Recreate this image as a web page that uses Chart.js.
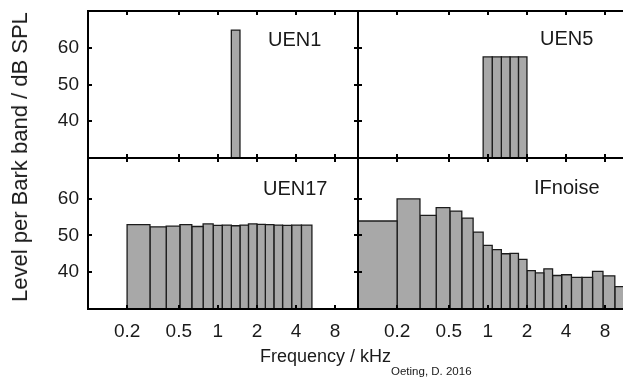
<!DOCTYPE html>
<html>
<head>
<meta charset="utf-8">
<script src="https://cdn.jsdelivr.net/npm/chart.js@4.4.1/dist/chart.umd.min.js"></script>
<style>
  html, body { margin: 0; padding: 0; background: #fff; }
  body { width: 623px; height: 378px; overflow: hidden; position: relative;
         font-family: "Liberation Sans", Arial, Helvetica, sans-serif; color: #1a1a1a; }
  canvas { position: absolute; left: 0; top: 0; }
  .lbl { position: absolute; white-space: nowrap; line-height: 1; }
</style>
</head>
<body>
<canvas id="uen1" width="640" height="378"></canvas>
<canvas id="uen5" width="640" height="378"></canvas>
<canvas id="uen17" width="640" height="378"></canvas>
<canvas id="ifnoise" width="640" height="378"></canvas>

<div class="lbl" style="left:268px;top:29px;font-size:20px">UEN1</div>
<div class="lbl" style="left:540px;top:28px;font-size:20px">UEN5</div>
<div class="lbl" style="left:263px;top:178px;font-size:20px">UEN17</div>
<div class="lbl" style="left:534px;top:177px;font-size:20px">IFnoise</div>
<div class="lbl" style="left:20px;top:157px;font-size:22px;transform:translate(-50%,-50%) rotate(-90deg)">Level per Bark band / dB SPL</div>
<div class="lbl" style="left:260px;top:347px;font-size:18px">Frequency / kHz</div>
<div class="lbl" style="left:391px;top:366px;font-size:11.5px">Oeting, D. 2016</div>

<script>
// Bark band edges in kHz (band i runs from edge i to edge i+1)
const BAND_EDGES_KHZ = [0.1, 0.2, 0.3, 0.4, 0.51, 0.63, 0.77, 0.92, 1.08, 1.27, 1.48,
  1.72, 2.0, 2.32, 2.7, 3.15, 3.7, 4.4, 5.3, 6.4, 7.7, 9.5, 12];

// level per band, dB SPL (null = no energy in that band)
const UEN1 = [null, null, null, null, null, null, null, null, null, 64.8, null,
  null, null, null, null, null, null, null, null, null, null, null];
const UEN5 = [null, null, null, null, null, null, null, 57.5, 57.5, 57.5, 57.5,
  57.5, null, null, null, null, null, null, null, null, null, null];
const UEN17 = [null, 52.9, 52.3, 52.5, 52.9, 52.4, 53.1, 52.7, 52.8, 52.6, 52.8,
  53.1, 53.0, 52.9, 52.8, 52.7, 52.8, 52.8, null, null, null, null];
const IFNOISE = [53.9, 59.9, 55.4, 57.5, 56.6, 54.7, 50.9, 47.3, 46.1, 45.0, 45.1,
  43.5, 40.4, 39.8, 40.9, 39.1, 39.3, 38.6, 38.6, 40.2, 39.0, 36.1];

const X_TICKS = [0.2, 0.5, 1, 2, 4, 8];
const Y_TICKS = [40, 50, 60];
const Y_MIN = 30;

const FONT = 'Liberation Sans, Arial, Helvetica, sans-serif';
const W = 640, H = 378;

const sizeTo = px => s => {
  if (s.isHorizontal()) s.height = px; else s.width = px;
  s.paddingTop = s.paddingBottom = s.paddingLeft = s.paddingRight = 0;
};

function bandDatasets(levels) {
  const sets = [];
  levels.forEach((v, i) => {
    if (v === null) return;
    const lo = BAND_EDGES_KHZ[i], hi = BAND_EDGES_KHZ[i + 1];
    sets.push({
      data: [{x: lo, y: Y_MIN}, {x: lo, y: v}, {x: hi, y: v}, {x: hi, y: Y_MIN}],
      xAxisID: 'x',
      yAxisID: 'y',
      borderColor: '#1c1c1c',
      borderWidth: 1.3,
      backgroundColor: '#a8a8a8',
      fill: 'start',
      pointRadius: 0,
      tension: 0,
    });
  });
  return sets;
}

function frameAxis(extra) {
  return Object.assign({
    display: true,
    bounds: 'data',
    border: { display: true, color: '#000', width: 2, z: 1 },
    grid: { drawOnChartArea: false, drawTicks: true, tickLength: -4, color: '#000', lineWidth: 2, z: 1 },
  }, extra);
}

function panel(id, levels, box, yMax, showX, showY) {
  const xAxisH = showX ? 40 : 0;
  const yAxisW = showY ? box.l : 0;
  const xBase = {
    type: 'logarithmic', min: 0.1, max: 12,
    afterBuildTicks: s => { s.ticks = X_TICKS.map(v => ({value: v})); },
  };
  const yBase = {
    type: 'linear', min: Y_MIN, max: yMax,
    afterBuildTicks: s => { s.ticks = Y_TICKS.map(v => ({value: v})); },
  };
  return new Chart(document.getElementById(id), {
    type: 'line',
    data: { datasets: bandDatasets(levels) },
    options: {
      responsive: false,
      animation: false,
      devicePixelRatio: 1,
      events: [],
      layout: {
        padding: { left: box.l - yAxisW, top: box.t, right: W - box.r, bottom: H - box.b - xAxisH },
      },
      plugins: { legend: { display: false }, tooltip: { enabled: false } },
      scales: {
        x: frameAxis(Object.assign({}, xBase, {
          position: 'bottom',
          afterFit: sizeTo(xAxisH),
          ticks: {
            display: showX, autoSkip: false, maxRotation: 0, padding: 15,
            color: '#1a1a1a', font: { family: FONT, size: 19 },
            callback: v => String(v),
          },
        })),
        xt: frameAxis(Object.assign({}, xBase, {
          position: 'top', afterFit: sizeTo(0), ticks: { display: false },
        })),
        y: frameAxis(Object.assign({}, yBase, {
          position: 'left',
          afterFit: sizeTo(yAxisW),
          ticks: {
            display: showY, padding: 13,
            color: '#1a1a1a', font: { family: FONT, size: 19 },
            callback: v => String(v),
          },
        })),
        yr: frameAxis(Object.assign({}, yBase, {
          position: 'right', afterFit: sizeTo(0), ticks: { display: false },
        })),
      },
    },
  });
}

panel('uen1', UEN1, {l: 88, t: 11, r: 358, b: 158}, 70, false, true);
panel('uen5', UEN5, {l: 358, t: 11, r: 628, b: 158}, 70, false, false);
panel('uen17', UEN17, {l: 88, t: 158, r: 358, b: 309}, 71, true, true);
panel('ifnoise', IFNOISE, {l: 358, t: 158, r: 628, b: 309}, 71, true, false);
</script>
</body>
</html>
